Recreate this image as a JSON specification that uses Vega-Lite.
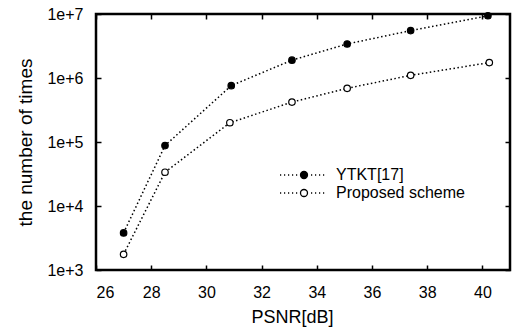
{
  "$schema": "https://vega.github.io/schema/vega-lite/v6.json",
  "width": 414,
  "height": 256,
  "autosize": "none",
  "padding": {"left": 96, "top": 14, "right": 6, "bottom": 60},
  "background": "white",
  "config": {
    "font": "Liberation Sans",
    "view": {"stroke": "black", "strokeWidth": 2.5},
    "axis": {"grid": false, "domain": false, "tickColor": "black", "tickWidth": 1.5, "tickSize": -5, "labelColor": "black", "titleColor": "black", "labelFont": "Liberation Sans", "titleFont": "Liberation Sans", "labelFontSize": 16, "titleFontSize": 18, "titleFontWeight": "normal"}
  },
  "data": {"values": [
    {"psnr": 27.0, "times": 3800, "series": "YTKT[17]"},
    {"psnr": 28.5, "times": 88000, "series": "YTKT[17]"},
    {"psnr": 30.9, "times": 760000, "series": "YTKT[17]"},
    {"psnr": 33.1, "times": 1900000, "series": "YTKT[17]"},
    {"psnr": 35.1, "times": 3400000, "series": "YTKT[17]"},
    {"psnr": 37.4, "times": 5500000, "series": "YTKT[17]"},
    {"psnr": 40.2, "times": 9400000, "series": "YTKT[17]"},
    {"psnr": 27.0, "times": 1760, "series": "Proposed scheme"},
    {"psnr": 28.5, "times": 33700, "series": "Proposed scheme"},
    {"psnr": 30.85, "times": 200000, "series": "Proposed scheme"},
    {"psnr": 33.1, "times": 420000, "series": "Proposed scheme"},
    {"psnr": 35.1, "times": 690000, "series": "Proposed scheme"},
    {"psnr": 37.4, "times": 1100000, "series": "Proposed scheme"},
    {"psnr": 40.25, "times": 1740000, "series": "Proposed scheme"}
  ]},
  "layer": [
    {
      "mark": {"type": "line", "color": "black", "strokeWidth": 1.5, "strokeDash": [1.5, 2.5]},
      "encoding": {
        "x": {"field": "psnr", "type": "quantitative", "scale": {"domain": [26, 41], "nice": false, "zero": false},
              "axis": {"orient": "bottom", "values": [26, 28, 30, 32, 34, 36, 38, 40], "title": "PSNR[dB]", "labelPadding": 19, "titlePadding": 8, "titleX": 196}},
        "y": {"field": "times", "type": "quantitative", "scale": {"type": "log", "domain": [1000, 10000000], "nice": false},
              "axis": {"orient": "left", "values": [1000, 10000, 100000, 1000000, 10000000], "labelExpr": "'1e+' + round(log(datum.value)/LN10)", "title": "the number of times", "titleFontSize": 19, "labelPadding": 18, "titlePadding": 11}},
        "detail": {"field": "series"}
      }
    },
    {
      "mark": {"type": "point", "shape": "circle", "filled": false, "stroke": "black", "strokeWidth": 1.2, "size": 42, "opacity": 1},
      "encoding": {
        "x": {"field": "psnr", "type": "quantitative",
              "axis": {"orient": "top", "values": [26, 28, 30, 32, 34, 36, 38, 40], "labels": false, "title": null}},
        "y": {"field": "times", "type": "quantitative",
              "axis": {"orient": "right", "values": [1000, 10000, 100000, 1000000, 10000000], "labels": false, "title": null}},
        "fill": {"field": "series", "type": "nominal",
                 "scale": {"domain": ["YTKT[17]", "Proposed scheme"], "range": ["black", "white"]},
                 "legend": {"orient": "none", "legendX": 181, "legendY": 153, "title": null, "padding": 0,
                            "labelFontSize": 16, "labelFont": "Liberation Sans", "labelColor": "black", "labelOffset": 43, "rowPadding": 2,
                            "symbolSize": 100, "symbolStrokeColor": "black", "symbolStrokeWidth": 1.3, "symbolOpacity": 1,
                            "symbolType": "M-1,0h0.24M-0.2,0h0.24M0.6,0h0.24M1.4,0h0.24M2.2,0h0.24M5.2,0h0.24M6,0h0.24M6.8,0h0.24M7.6,0h0.24M4.5,0A0.7,0.7 0 1 1 3.1,0A0.7,0.7 0 1 1 4.5,0Z"}}
      }
    }
  ]
}
